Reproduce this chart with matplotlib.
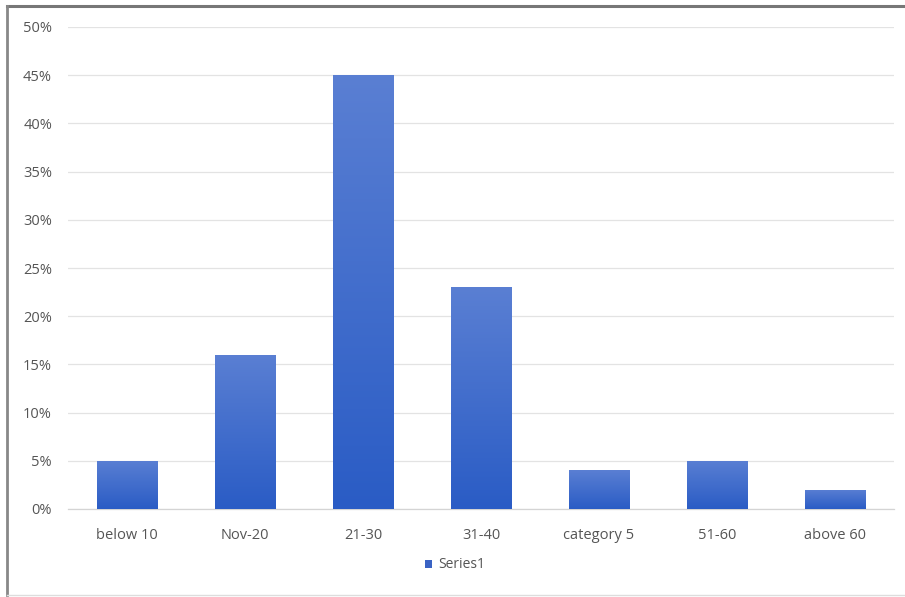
import matplotlib.pyplot as plt
import matplotlib.colors as mcolors
import numpy as np
from matplotlib.lines import Line2D
from matplotlib.patches import Patch

# --- Data ---
categories = ["below 10", "Nov-20", "21-30", "31-40", "category 5", "51-60", "above 60"]
shares = [0.05, 0.16, 0.45, 0.23, 0.04, 0.05, 0.02]
series_name = "Series1"

TOP_BLUE = "#5a7fd3"
BOTTOM_BLUE = "#2a5cc5"
TEXT_GRAY = "#555555"

plt.rcParams['font.family'] = ['Open Sans', 'DejaVu Sans']

fig = plt.figure(figsize=(9.05, 5.97), dpi=100)
ax = fig.add_axes([68 / 905, 88 / 597, 826 / 905, 482 / 597])

x = np.arange(len(categories))
bars = ax.bar(x, shares, width=0.51, color=BOTTOM_BLUE, zorder=2)

# vertical gradient inside every bar, light at the top
cmap = mcolors.LinearSegmentedColormap.from_list("bar_grad", [BOTTOM_BLUE, TOP_BLUE])
grad = np.linspace(0, 1, 256).reshape(-1, 1)
for b in bars:
    bx, bw, bh = b.get_x(), b.get_width(), b.get_height()
    im = ax.imshow(grad, extent=[bx, bx + bw, 0, bh], origin='lower', aspect='auto',
                   cmap=cmap, zorder=3, interpolation='bicubic')
    im.set_clip_path(b)
    b.set_facecolor('none')

ax.set_xlim(-0.5, len(categories) - 0.5)
ax.set_ylim(0, 0.5)
ax.set_yticks(np.arange(0, 0.51, 0.05))
ax.set_yticklabels([f"{int(round(v * 100))}%" for v in np.arange(0, 0.51, 0.05)])
ax.set_xticks(x)
ax.set_xticklabels(categories)

ax.grid(axis='y', color='#e3e3e3', linewidth=0.9, zorder=0)
ax.set_axisbelow(True)
for side in ['top', 'right', 'left']:
    ax.spines[side].set_visible(False)
ax.spines['bottom'].set_color('#d4d4d4')
ax.spines['bottom'].set_linewidth(0.9)
ax.tick_params(axis='both', length=0, colors=TEXT_GRAY, labelsize=10.5)
ax.tick_params(axis='y', pad=11.5)
ax.tick_params(axis='x', pad=14)

handle = Patch(facecolor="#3a63c4", edgecolor='none')
fig.legend([handle], [series_name], loc='center', bbox_to_anchor=(455 / 905, 1 - 565 / 597),
           frameon=False, fontsize=10, labelcolor=TEXT_GRAY, handlelength=0.5,
           handleheight=0.5, handletextpad=0.4)

# chart-area frame
fig.add_artist(Line2D([7 / 905, 1], [1 - 6 / 597, 1 - 6 / 597], color='#777777', lw=2.2))
fig.add_artist(Line2D([7 / 905, 7 / 905], [1 - 6 / 597, 1 - 595 / 597], color='#888888', lw=2))
fig.add_artist(Line2D([7 / 905, 1], [1 - 595 / 597, 1 - 595 / 597], color='#dddddd', lw=1))

fig.savefig("out.png", dpi=100, facecolor='white')
